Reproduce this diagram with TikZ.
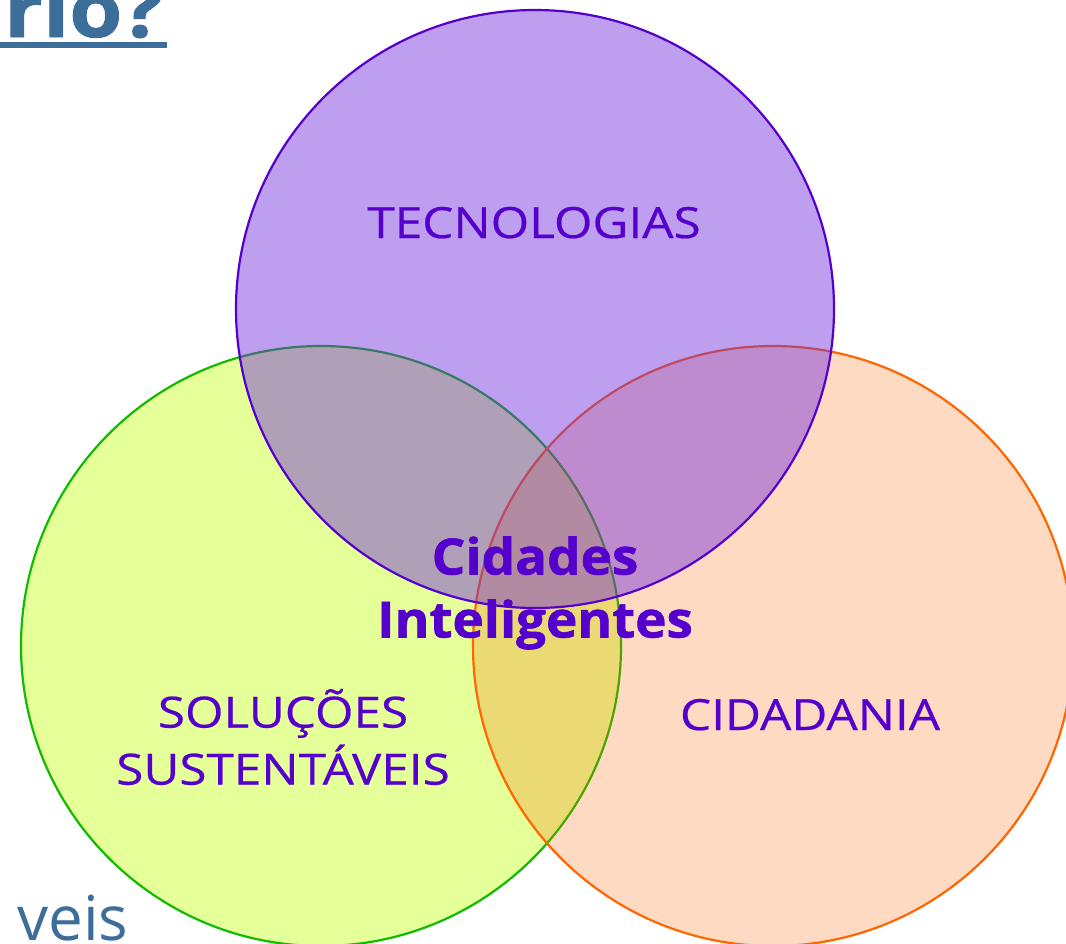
\documentclass[tikz,border=0pt]{standalone}
\usepackage{fontspec}
\setmainfont{Open Sans}
\newfontfamily\labelfont[FakeStretch=1.15,FakeBold=0.5]{Open Sans}
\newfontfamily\centerfont[FakeStretch=1.06,BoldFeatures={FakeBold=1.2}]{Open Sans}
\newfontfamily\titlefont[FakeStretch=1.1,BoldFeatures={FakeBold=1.2}]{Open Sans}
\definecolor{topfill}{RGB}{110,42,220}
\definecolor{topline}{RGB}{85,0,204}
\definecolor{leftfill}{RGB}{204,255,51}
\definecolor{leftline}{RGB}{17,187,0}
\definecolor{rightfill}{RGB}{255,102,0}
\definecolor{rightline}{RGB}{255,102,0}
\definecolor{labeltext}{RGB}{85,0,204}
\definecolor{slidetext}{RGB}{61,109,153}
\tikzset{
  venn/.style={circle, inner sep=0pt, outer sep=0pt, minimum size=600pt, line width=2.2pt},
  vlabel/.style={text=labeltext, font=\labelfont\fontsize{43}{57}\selectfont, inner sep=0pt, align=center},
  vcenter/.style={text=labeltext, font=\centerfont\bfseries\fontsize{50}{63}\selectfont, inner sep=0pt, align=center},
}
\begin{document}
\begin{tikzpicture}[x=1pt,y=-1pt]
\useasboundingbox (0,0) rectangle (1066,943);
\clip (0,0) rectangle (1066,943);
% slide remnants
\node[anchor=base west, inner sep=0pt, text=slidetext, font=\titlefont\bfseries\fontsize{78}{90}\selectfont] (title) at (4,37) {rio?};
\fill[slidetext] (0,42) rectangle (167,48);
\node[anchor=base west, inner sep=0pt, text=slidetext, font=\fontsize{62}{74}\selectfont] (bottom) at (17,940) {veis};
% circles
\node[venn, draw=leftline, fill=leftfill, fill opacity=0.5, draw opacity=1] (left) at (321,646) {};
\node[venn, draw=rightline, fill=rightfill, fill opacity=0.24, draw opacity=1] (right) at (773,646) {};
\node[venn, minimum size=598pt, draw=topline, fill=topfill, fill opacity=0.45, draw opacity=1] (top) at (535,309) {};
% labels
\node[vlabel, anchor=base] (tec) at (534,238) {TECNOLOGIAS};
\node[vlabel, anchor=base] (cid) at (810,730) {CIDADANIA};
\node[vlabel, anchor=center] (sol) at (283,737) {SOLUÇÕES\\SUSTENTÁVEIS};
\node[vcenter, anchor=center] (ci) at (535,593) {Cidades\\Inteligentes};
\end{tikzpicture}
\end{document}
